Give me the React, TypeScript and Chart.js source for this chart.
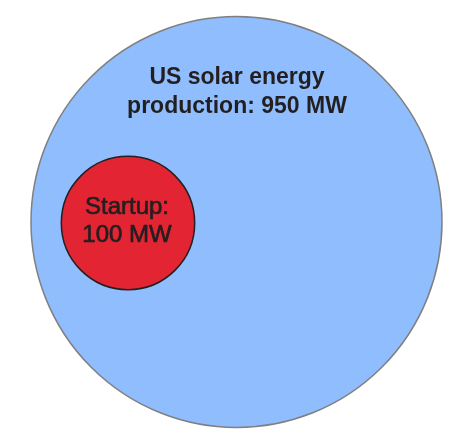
import React, { useEffect, useRef } from "react";
import { Chart, registerables } from "chart.js";

Chart.register(...registerables);

// Data
const categories = ["US solar energy production", "Startup"];
const valuesMW = [950, 100];
const labelLines = [
  ["US solar energy", "production: 950 MW"],
  ["Startup:", "100 MW"],
];

// Layout / style (not data)
const W = 471;
const H = 442;
const MAX_RADIUS = 205.5;
const centers = [
  { x: 236.5, y: 222 },
  { x: 128, y: 223 },
];
const fills = ["#8fbdfe", "#e32533"];
const borders = ["#808080", "#231f20"];
const borderWidths = [1.5, 1.5];
const drawOrder = [1, 0];
const labelFonts = ['bold 23px "Liberation Sans", Arial, sans-serif', '24px "Liberation Sans", Arial, sans-serif'];
const labelStroke = [0, 0.7];
const labelBaselines = [
  [-138, -109.3],
  [-9, 18.7],
];
const labelDx = [0.5, -1];

const radiusFor = (v: number) => MAX_RADIUS * Math.sqrt(v / valuesMW[0]);

const labelPlugin = {
  id: "bubbleLabels",
  afterDatasetsDraw(chart: any) {
    const ctx = chart.ctx;
    const xs = chart.scales.x;
    const ys = chart.scales.y;
    chart.data.datasets.forEach((ds: any, i: number) => {
      const pt = ds.data[0];
      const px = xs.getPixelForValue(pt.x);
      const py = ys.getPixelForValue(pt.y);
      ctx.save();
      ctx.font = labelFonts[i];
      ctx.fillStyle = "#231f20";
      ctx.strokeStyle = "#231f20";
      ctx.lineWidth = labelStroke[i];
      ctx.lineJoin = "round";
      ctx.textAlign = "center";
      ctx.textBaseline = "alphabetic";
      labelLines[i].forEach((line, j) => {
        const tx = px + labelDx[i];
        const ty = py + labelBaselines[i][j];
        ctx.fillText(line, tx, ty);
        if (labelStroke[i] > 0) ctx.strokeText(line, tx, ty);
      });
      ctx.restore();
    });
  },
};

export default function App() {
  const ref = useRef<HTMLCanvasElement>(null);
  useEffect(() => {
    if (!ref.current) return;
    const chart = new Chart(ref.current, {
      type: "bubble",
      data: {
        datasets: categories.map((c, i) => ({
          label: c,
          data: [{ x: centers[i].x, y: centers[i].y, r: radiusFor(valuesMW[i]) }],
          backgroundColor: fills[i],
          borderColor: borders[i],
          borderWidth: borderWidths[i],
          hoverRadius: 0,
          order: drawOrder[i],
          clip: false,
        })),
      },
      options: {
        animation: false,
        responsive: false,
        maintainAspectRatio: false,
        devicePixelRatio: 1,
        layout: { padding: 0, autoPadding: false },
        events: [],
        plugins: {
          legend: { display: false },
          tooltip: { enabled: false },
          title: { display: false },
        },
        scales: {
          x: { type: "linear", min: 0, max: W, display: false },
          y: { type: "linear", min: 0, max: H, reverse: true, display: false },
        },
      },
      plugins: [labelPlugin],
    });
    return () => chart.destroy();
  }, []);
  return (
    <div style={{ position: "fixed", left: 0, top: 0, width: W, height: H, background: "#fff" }}>
      <canvas ref={ref} width={W} height={H} style={{ width: W, height: H, display: "block" }} />
    </div>
  );
}
